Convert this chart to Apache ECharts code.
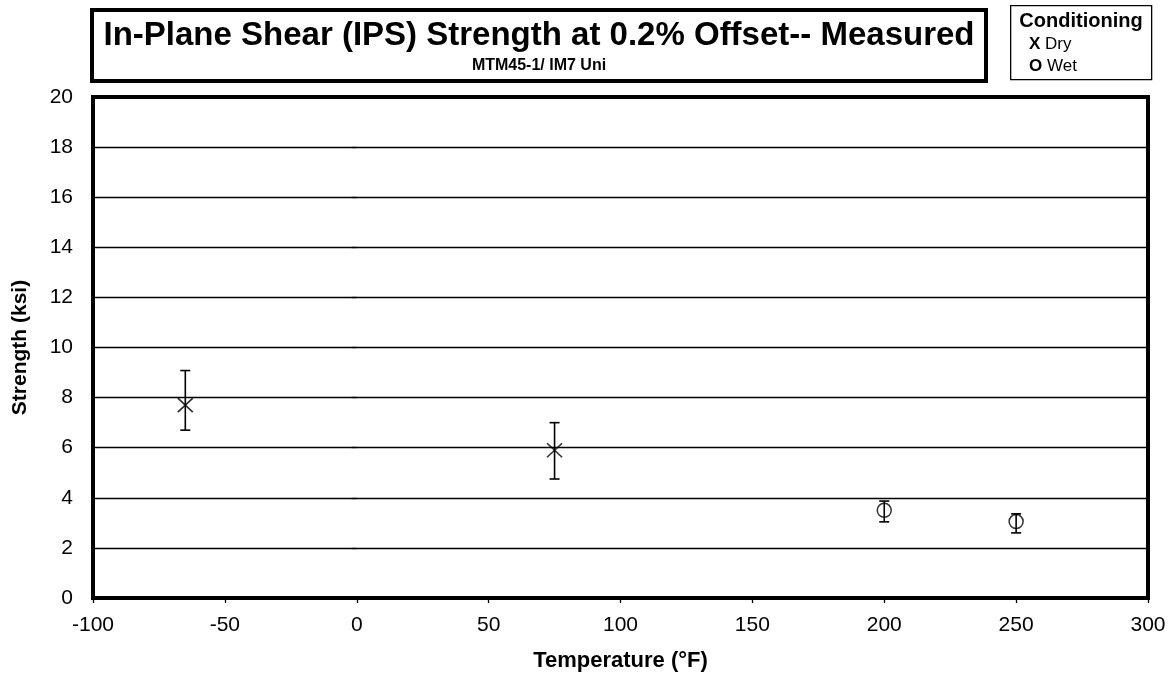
<!DOCTYPE html>
<html>
<head>
<meta charset="utf-8">
<script src="https://cdn.jsdelivr.net/npm/echarts@6/dist/echarts.min.js"></script>
<style>
  html, body { margin: 0; padding: 0; background: #fff; }
  #main { width: 1174px; height: 677px; }
</style>
</head>
<body>
<div id="main"></div>
<script>
// dry conditioning (X)
const dryTemp = [-65, 75];
const dryMean = [7.7, 5.9];
const dryHigh = [9.08, 7.0];
const dryLow = [6.7, 4.75];
// wet conditioning (O)
const wetTemp = [200, 250];
const wetMean = [3.5, 3.05];
const wetHigh = [3.87, 3.36];
const wetLow = [3.04, 2.6];

const xTicks = [-100, 300, 50];
const yTicks = [0, 20, 2];

const font = 'Liberation Sans, Arial, sans-serif';

function pairs(xs, ys) {
  return xs.map((x, i) => [x, ys[i]]);
}
function bars(xs, lo, hi) {
  return xs.map((x, i) => [x, lo[i], hi[i]]);
}

function errRender(capW) {
  return function (params, api) {
    const x = api.value(0);
    const top = api.coord([x, api.value(2)]);
    const bot = api.coord([x, api.value(1)]);
    const st = { stroke: '#000', lineWidth: 1.6 };
    return {
      type: 'group',
      children: [
        { type: 'line', shape: { x1: top[0], y1: top[1], x2: bot[0], y2: bot[1] }, style: st },
        { type: 'line', shape: { x1: top[0] - capW, y1: top[1], x2: top[0] + capW, y2: top[1] }, style: st },
        { type: 'line', shape: { x1: bot[0] - capW, y1: bot[1], x2: bot[0] + capW, y2: bot[1] }, style: st }
      ]
    };
  };
}

let myChart = echarts.init(document.getElementById('main'));
let option = {
  backgroundColor: '#fff',
  animation: false,
  textStyle: { fontFamily: font },
  grid: {
    left: 93, top: 97, right: 26, bottom: 79,
    show: true, borderColor: '#000', borderWidth: 4
  },
  xAxis: {
    type: 'value',
    min: xTicks[0], max: xTicks[1], interval: xTicks[2],
    name: 'Temperature (°F)',
    nameLocation: 'middle', nameGap: 52,
    nameTextStyle: { color: '#000', fontSize: 22, fontWeight: 'bold', fontFamily: font },
    axisLine: { show: false },
    axisTick: { show: true, length: 5, lineStyle: { color: '#000', width: 1.3 } },
    axisLabel: { color: '#000', fontSize: 21, margin: 17, fontFamily: font },
    splitLine: { show: false }
  },
  yAxis: {
    type: 'value',
    min: yTicks[0], max: yTicks[1], interval: yTicks[2],
    name: 'Strength (ksi)',
    nameLocation: 'middle', nameGap: 62,
    nameTextStyle: { color: '#000', fontSize: 21, fontWeight: 'bold', fontFamily: font },
    axisLine: { show: false },
    axisTick: { show: true, length: 5, lineStyle: { color: '#000', width: 1.3 } },
    axisLabel: { color: '#000', fontSize: 21, margin: 20, fontFamily: font },
    splitLine: { show: true, lineStyle: { color: '#000', width: 1.3 } }
  },
  graphic: [
    {
      type: 'rect', left: 90, top: 8,
      shape: { width: 894, height: 71 },
      style: { fill: '#fff', stroke: '#000', lineWidth: 4 }
    },
    {
      type: 'text', x: 539, y: 36,
      style: {
        text: 'In-Plane Shear (IPS) Strength at 0.2% Offset-- Measured',
        font: 'bold 33px ' + font, fill: '#000', align: 'center', verticalAlign: 'middle'
      }
    },
    {
      type: 'text', x: 539, y: 66,
      style: {
        text: 'MTM45-1/ IM7 Uni',
        font: 'bold 16px ' + font, fill: '#000', align: 'center', verticalAlign: 'middle'
      }
    },
    {
      type: 'rect', left: 1010, top: 5,
      shape: { width: 141, height: 74 },
      style: { fill: '#fff', stroke: '#000', lineWidth: 1.3 }
    },
    {
      type: 'text', x: 1081, y: 21,
      style: {
        text: 'Conditioning',
        font: 'bold 20px ' + font, fill: '#000', align: 'center', verticalAlign: 'middle'
      }
    },
    {
      type: 'text', x: 1029, y: 44,
      style: {
        text: '{b|X} Dry',
        font: '17px ' + font, fill: '#000', verticalAlign: 'middle',
        rich: { b: { font: 'bold 17px ' + font, fill: '#000' } }
      }
    },
    {
      type: 'text', x: 1029, y: 66,
      style: {
        text: '{b|O} Wet',
        font: '17px ' + font, fill: '#000', verticalAlign: 'middle',
        rich: { b: { font: 'bold 17px ' + font, fill: '#000' } }
      }
    }
  ],
  series: [
    {
      name: 'Dry bars', type: 'custom', z: 3,
      renderItem: errRender(5),
      encode: { x: 0, y: [1, 2] },
      data: bars(dryTemp, dryLow, dryHigh)
    },
    {
      name: 'Wet bars', type: 'custom', z: 3,
      renderItem: errRender(5),
      encode: { x: 0, y: [1, 2] },
      data: bars(wetTemp, wetLow, wetHigh)
    },
    {
      name: 'Dry', type: 'scatter', z: 4,
      symbol: 'path://M0,0L10,10M10,0L0,10',
      symbolSize: [15, 14],
      itemStyle: { color: 'none', borderColor: '#000', borderWidth: 1.6 },
      data: pairs(dryTemp, dryMean)
    },
    {
      name: 'Wet', type: 'scatter', z: 4,
      symbol: 'circle',
      symbolSize: 14,
      itemStyle: { color: 'none', borderColor: '#000', borderWidth: 1.5 },
      data: pairs(wetTemp, wetMean)
    }
  ]
};
myChart.setOption(option);
</script>
</body>
</html>
